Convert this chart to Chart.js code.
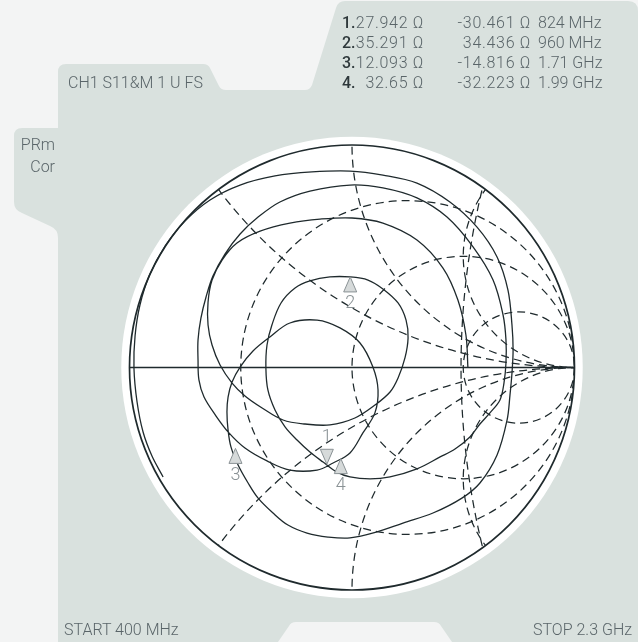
<!DOCTYPE html>
<html>
<head>
<meta charset="utf-8">
<script src="https://cdn.jsdelivr.net/npm/chart.js@4.4.1/dist/chart.umd.min.js"></script>
<style>
  html, body { margin:0; padding:0; }
  body { width:638px; height:642px; overflow:hidden; background:#f3f4f4; position:relative;
         font-family:'Roboto','Liberation Sans',sans-serif; font-weight:300; color:#5a6569; }
  #bg { position:absolute; left:0; top:0; }
  #wrap { position:absolute; left:0; top:0; width:638px; height:642px; }
  .t { position:absolute; font-size:16px; line-height:20px; white-space:pre; }
  .num { color:#2e383b; font-weight:500; }
  .r { text-align:right; }
  .v { letter-spacing:0.7px; }
</style>
</head>
<body>
<svg id="bg" width="638" height="642" viewBox="0 0 638 642">
  <path fill="#d9e1de" d="M58 72 Q58 64 66 64 L203 64 Q208 64 210 68 L219 86 Q221 90 226 90 L305 90 Q310 90 312 85 L336 8 Q338 1 345 1 L628 1 Q638 1 638 11 L638 642 L452 642 L441 626 Q439 622 434 622 L296 622 Q291 622 289 626 L278 642 L58 642 L58 238 Q58 229 50 226 L22 213 Q14 210 14 202 L14 136 Q14 128 22 128 L58 128 Z"/>
</svg>
<div id="wrap"><canvas id="c" width="638" height="642"></canvas></div>
<div id="texts"></div>
<script>
// ---------- data ----------
const channelLabel = 'CH1 S11\u0026M 1 U FS';
const sideLabels = ['PRm', 'Cor'];
const startFreqMHz = 400;
const stopFreqMHz = 2300;

// markers (ohms, Z0 = 50)
const markerR = [27.942, 35.291, 12.093, 32.65];
const markerX = [-30.461, 34.436, -14.816, -32.223];
const markerFreqMHz = [824, 960, 1710, 1990];
const markerPointsDown = [true, false, false, false];
const z0 = 50;

// Smith grid values (normalised)
const resistanceCircles = [1/3, 1, 3];
const reactanceArcs = [0.5, 1, 2, -0.5, -1, -2];
// extra dashed grid circle seen on the chart: [centre on real axis, radius] in reflection units
const auxCircles = [[3.91, 3.42]];

const traceRe = [-0.849,-0.899,-0.939,-0.966,-0.980,-0.975,-0.953,-0.908,-0.840,-0.751,-0.638,-0.503,-0.346,-0.180,-0.009,0.139,0.292,0.440,0.562,0.652,0.701,0.719,0.724,0.719,
 0.710,0.697,0.652,0.575,0.494,0.364,0.229,0.112,-0.009,-0.108,-0.202,-0.288,-0.355,-0.422,-0.467,-0.512,-0.544,-0.557,-0.562,-0.557,-0.539,-0.503,-0.445,-0.369,-0.279,-0.157,-0.054,0.036,0.094,0.117,0.103,0.049,-0.009,-0.085,-0.157,-0.279,-0.382,-0.481,-0.553,-0.611,-0.665,-0.688,-0.692,-0.692,-0.679,-0.656,-0.625,-0.571,-0.503,-0.422,-0.324,-0.189,-0.009,0.139,0.292,0.427,0.544,0.634,0.679,0.692,0.692,
 0.683,0.665,0.620,0.575,0.530,0.463,0.396,0.292,0.171,0.081,-0.009,-0.067,-0.130,-0.189,-0.247,-0.301,-0.346,-0.378,-0.387,-0.382,-0.360,-0.319,-0.256,-0.189,-0.099,-0.009,0.072,0.139,0.207,0.243,0.252,0.238,0.207,0.171,0.103,0.013,-0.099,-0.211,-0.310,-0.404,-0.481,-0.539,-0.593,-0.629,-0.647,-0.647,-0.629,-0.584,-0.517,-0.413,-0.279,-0.144,0.000,0.139,0.292,0.409,0.476,0.512,0.521];
const traceIm = [-0.492,-0.398,-0.290,-0.155,-0.002,0.142,0.281,0.420,0.546,0.658,0.753,0.820,0.861,0.879,0.883,0.865,0.829,0.744,0.631,0.497,0.348,0.191,0.079,-0.025,
 -0.124,-0.236,-0.393,-0.519,-0.587,-0.654,-0.699,-0.739,-0.766,-0.762,-0.744,-0.708,-0.654,-0.587,-0.519,-0.438,-0.357,-0.281,-0.200,-0.133,-0.065,0.002,0.074,0.137,0.200,0.213,0.178,0.110,0.002,-0.101,-0.204,-0.294,-0.384,-0.429,-0.461,-0.461,-0.420,-0.362,-0.294,-0.218,-0.133,-0.056,0.034,0.124,0.222,0.317,0.411,0.510,0.600,0.676,0.744,0.793,0.820,0.807,0.762,0.676,0.542,0.393,0.236,0.124,0.020,
 -0.070,-0.146,-0.204,-0.254,-0.312,-0.366,-0.402,-0.456,-0.492,-0.501,-0.492,-0.470,-0.425,-0.380,-0.326,-0.267,-0.191,-0.101,-0.002,0.101,0.191,0.290,0.357,0.389,0.407,0.407,0.393,0.353,0.290,0.213,0.133,0.043,-0.047,-0.110,-0.169,-0.227,-0.258,-0.254,-0.236,-0.182,-0.128,-0.070,0.011,0.101,0.191,0.294,0.393,0.483,0.560,0.613,0.649,0.667,0.672,0.649,0.573,0.447,0.303,0.146,-0.002];

// ---------- helpers ----------
function fmtFreq(mhz) { return mhz < 1000 ? mhz + ' MHz' : (mhz / 1000) + ' GHz'; }
function gammaOf(r, x) {
  const zr = r / z0, zi = x / z0;
  const nr = zr - 1, ni = zi, dr = zr + 1, di = zi;
  const d = dr * dr + di * di;
  return { re: (nr * dr + ni * di) / d, im: (ni * dr - nr * di) / d };
}

// ---------- texts ----------
const texts = document.getElementById('texts');
function addText(txt, css, cls) {
  const d = document.createElement('div');
  d.className = 't ' + (cls || '');
  d.textContent = txt;
  Object.assign(d.style, css);
  texts.appendChild(d);
}
const OHM = ' \u03A9';
const rowTops = [13, 33, 53, 73];
markerR.forEach((r, i) => {
  const top = rowTops[i] + 'px';
  addText((i + 1) + '.', { left: '342px', top }, 'num');
  addText(r + OHM, { left: '352px', width: '72px', top }, 'r v');
  addText(markerX[i] + OHM, { left: '430px', width: '101px', top }, 'r v');
  addText(fmtFreq(markerFreqMHz[i]), { left: '538px', top });
});
addText(channelLabel, { left: '68px', top: '73px' });
addText(sideLabels[0], { left: '10px', width: '45px', top: '135px' }, 'r');
addText(sideLabels[1], { left: '10px', width: '45px', top: '157px' }, 'r');
addText('START ' + fmtFreq(startFreqMHz), { left: '64px', top: '620px' });
addText('STOP ' + fmtFreq(stopFreqMHz), { right: '6px', top: '620px' });

// ---------- chart ----------
const LINE = '#1f2a2d';
const smithPlugin = {
  id: 'smith',
  beforeDraw(chart) {
    const { ctx } = chart;
    const X = v => chart.scales.x.getPixelForValue(v);
    const Y = v => chart.scales.y.getPixelForValue(v);
    const cx = X(0), cy = Y(0), R = X(1) - cx;
    ctx.save();
    ctx.fillStyle = '#ffffff';
    ctx.beginPath(); ctx.arc(cx, cy, R * 1.037, 0, Math.PI * 2); ctx.fill();
    ctx.restore();
  },
  beforeDatasetsDraw(chart) {
    const { ctx } = chart;
    const X = v => chart.scales.x.getPixelForValue(v);
    const Y = v => chart.scales.y.getPixelForValue(v);
    const cx = X(0), cy = Y(0), R = X(1) - cx;
    ctx.save();
    ctx.beginPath(); ctx.arc(cx, cy, R, 0, Math.PI * 2); ctx.clip();
    ctx.strokeStyle = LINE; ctx.lineWidth = 1.25; ctx.setLineDash([8, 5]);
    resistanceCircles.forEach(r => {
      ctx.beginPath();
      ctx.arc(X(r / (1 + r)), cy, R / (1 + r), 0, Math.PI * 2);
      ctx.stroke();
    });
    reactanceArcs.forEach(x => {
      ctx.beginPath();
      ctx.arc(X(1), Y(1 / x), R / Math.abs(x), 0, Math.PI * 2);
      ctx.stroke();
    });
    auxCircles.forEach(([c, rad]) => {
      ctx.beginPath();
      ctx.arc(X(c), cy, R * rad, 0, Math.PI * 2);
      ctx.stroke();
    });
    ctx.restore();
    ctx.save();
    ctx.strokeStyle = LINE; ctx.lineWidth = 1.7; ctx.setLineDash([]);
    ctx.beginPath(); ctx.arc(cx, cy, R, 0, Math.PI * 2); ctx.stroke();
    ctx.lineWidth = 1.5;
    ctx.beginPath(); ctx.moveTo(X(-1), cy); ctx.lineTo(X(1), cy); ctx.stroke();
    ctx.restore();
  },
  afterDatasetsDraw(chart) {
    const { ctx } = chart;
    const X = v => chart.scales.x.getPixelForValue(v);
    const Y = v => chart.scales.y.getPixelForValue(v);
    ctx.save();
    ctx.font = '300 18px Roboto, sans-serif';
    ctx.textAlign = 'center'; ctx.textBaseline = 'middle';
    markerR.forEach((r, i) => {
      const g = gammaOf(r, markerX[i]);
      const px = X(g.re), py = Y(g.im);
      const s = markerPointsDown[i] ? -1 : 1;
      ctx.beginPath();
      ctx.moveTo(px, py);
      ctx.lineTo(px - 6.5, py + s * 15);
      ctx.lineTo(px + 6.5, py + s * 15);
      ctx.closePath();
      ctx.fillStyle = '#d6dada'; ctx.fill();
      ctx.strokeStyle = '#8a9295'; ctx.lineWidth = 1; ctx.stroke();
      ctx.fillStyle = '#8a9295';
      ctx.fillText(String(i + 1), px, py + s * 27);
    });
    ctx.restore();
  }
};

const tracePoints = traceRe.map((re, i) => ({ x: re, y: traceIm[i] }));

new Chart(document.getElementById('c'), {
  type: 'scatter',
  data: {
    datasets: [{
      data: tracePoints,
      showLine: true,
      borderColor: LINE,
      borderWidth: 1.3,
      pointRadius: 0,
      tension: 0.35,
      fill: false
    }]
  },
  options: {
    responsive: false,
    animation: false,
    layout: { padding: { left: 129.5, right: 63.5, top: 145, bottom: 52 } },
    scales: {
      x: { type: 'linear', min: -1, max: 1, display: false },
      y: { type: 'linear', min: -1, max: 1, display: false }
    },
    plugins: { legend: { display: false }, tooltip: { enabled: false } }
  },
  plugins: [smithPlugin]
});
</script>
</body>
</html>
